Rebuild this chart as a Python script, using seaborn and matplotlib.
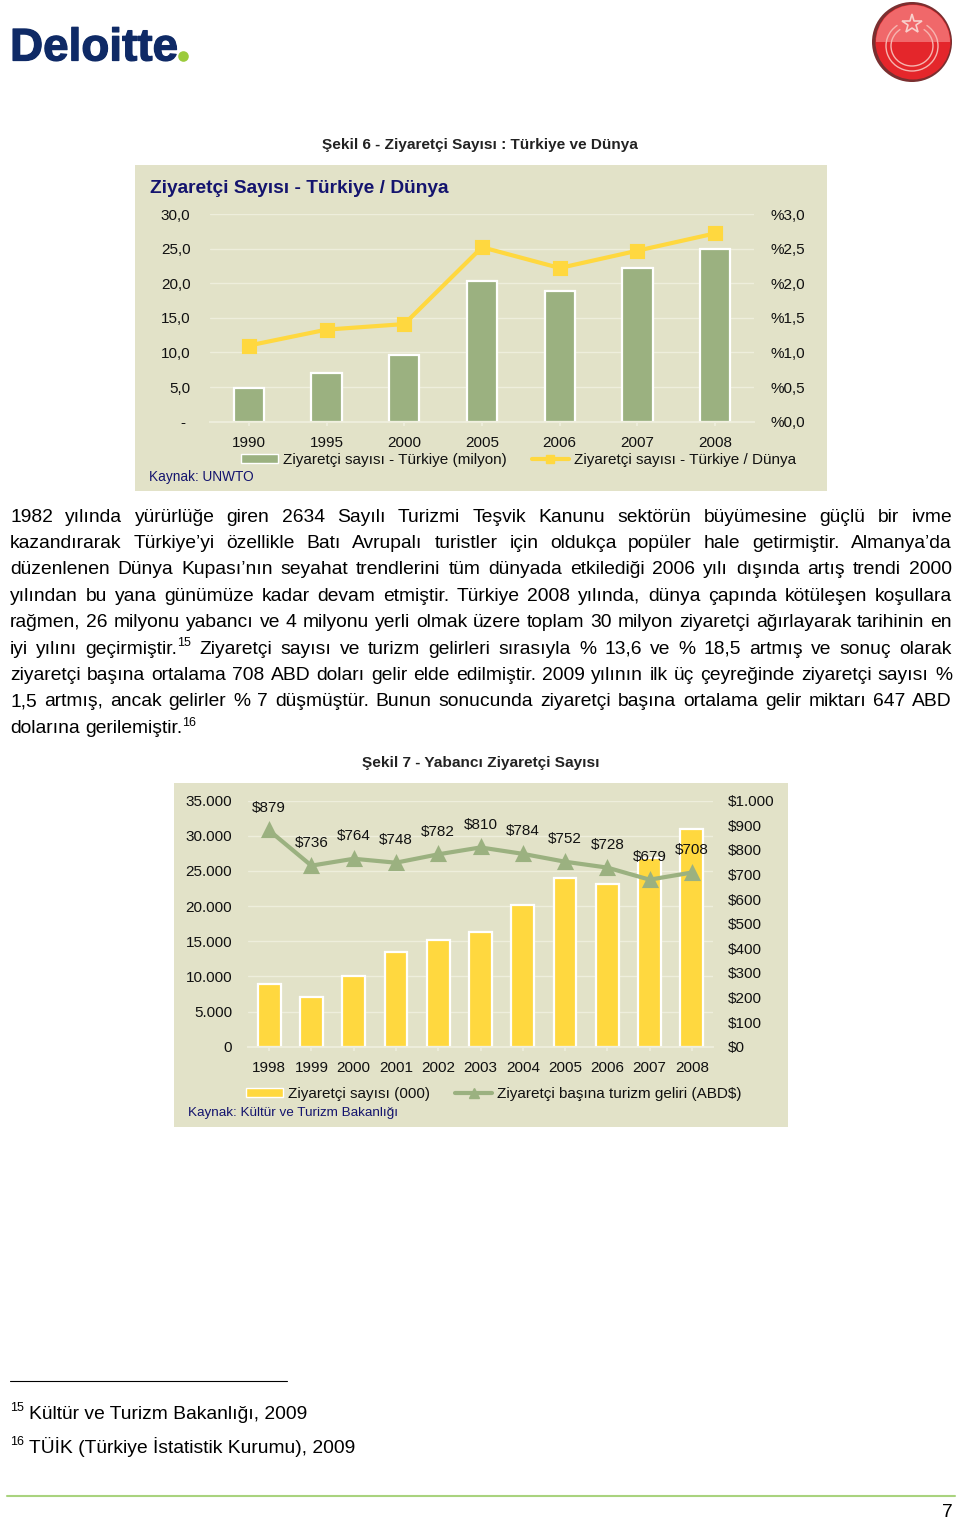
import pandas as pd
import matplotlib
matplotlib.use("Agg")
import matplotlib.pyplot as plt
import matplotlib.patheffects as pe
import seaborn as sns
from matplotlib.lines import Line2D
from matplotlib.patches import Arc, Circle, Patch, Rectangle, Wedge

# chart 1 data
years_a = ["1990", "1995", "2000", "2005", "2006", "2007", "2008"]
visitors_a = [4.8, 7.0, 9.6, 20.3, 18.9, 22.2, 24.9]
share_a = [1.10, 1.33, 1.41, 2.52, 2.22, 2.47, 2.72]
left_ticks_a = ["- ", "5,0", "10,0", "15,0", "20,0", "25,0", "30,0"]
right_ticks_a = ["%0,0", "%0,5", "%1,0", "%1,5", "%2,0", "%2,5", "%3,0"]

# chart 2 data
years_b = ["1998", "1999", "2000", "2001", "2002", "2003", "2004", "2005", "2006", "2007", "2008"]
visitors_b = [8900, 7100, 10000, 13500, 15200, 16300, 20200, 24000, 23100, 26800, 31000]
income_b = [879, 736, 764, 748, 782, 810, 784, 752, 728, 679, 708]
left_ticks_b = ["0", "5.000", "10.000", "15.000", "20.000", "25.000", "30.000", "35.000"]
right_ticks_b = ["$0", "$100", "$200", "$300", "$400", "$500", "$600", "$700", "$800", "$900", "$1.000"]

# body text, one entry per line of the page
body_lines = [
    "1982 yılında yürürlüğe giren 2634 Sayılı Turizmi Teşvik Kanunu sektörün büyümesine güçlü bir ivme",
    "kazandırarak Türkiye’yi özellikle Batı Avrupalı turistler için oldukça popüler hale getirmiştir. Almanya’da",
    "düzenlenen Dünya Kupası’nın seyahat trendlerini tüm dünyada etkilediği 2006 yılı dışında artış trendi 2000",
    "yılından bu yana günümüze kadar devam etmiştir. Türkiye 2008 yılında, dünya çapında kötüleşen koşullara",
    "rağmen, 26 milyonu yabancı ve 4 milyonu yerli olmak üzere toplam 30 milyon ziyaretçi ağırlayarak tarihinin en",
    "iyi yılını geçirmiştir.^15 Ziyaretçi sayısı ve turizm gelirleri sırasıyla % 13,6 ve % 18,5 artmış ve sonuç olarak",
    "ziyaretçi başına ortalama 708 ABD doları gelir elde edilmiştir. 2009 yılının ilk üç çeyreğinde ziyaretçi sayısı %",
    "1,5 artmış, ancak gelirler % 7 düşmüştür. Bunun sonucunda ziyaretçi başına ortalama gelir miktarı 647 ABD",
    "dolarına gerilemiştir.^16",
]

PANEL = "#E2E2C8"
GRID = "#EEEEDC"
NAVY = "#14146E"
GREEN = "#9BB180"
YELLOW = "#FFD83F"
TEXT = "#111111"
TICK_SIZE = 11
BODY_SIZE = 13.85

sns.set_theme(style="white")
plt.rcParams["font.family"] = ["Liberation Sans", "DejaVu Sans"]

W, H = 960, 1520
fig = plt.figure(figsize=(9.6, 15.2), dpi=100, facecolor="white")

# page overlay in pixel coordinates
page = fig.add_axes([0, 0, 1, 1], zorder=0)
page.set_xlim(0, W)
page.set_ylim(H, 0)
page.axis("off")
page.add_patch(Rectangle((135, 165), 692, 326, color=PANEL, lw=0))
page.add_patch(Rectangle((174, 783), 614, 344, color=PANEL, lw=0))

renderer = fig.canvas.get_renderer()


def px_axes(x0, y0, x1, y1):
    a = fig.add_axes([x0 / W, 1 - y1 / H, (x1 - x0) / W, (y1 - y0) / H], zorder=2)
    a.patch.set_alpha(0)
    return a


def style_axes(a):
    for side, spine in a.spines.items():
        spine.set_visible(side == "bottom")
        spine.set_color(GRID)
    a.set_xlabel("")
    a.set_ylabel("")


def combo_chart(box, years, bars, line, bar_color, line_color, marker, msize, bar_width,
                left_ticks, right_ticks, left_step, right_step, pad_l, pad_r):
    ax = px_axes(*box)
    df = pd.DataFrame({"year": years, "bars": bars, "line": line})
    sns.barplot(data=df, x="year", y="bars", ax=ax, color=bar_color, saturation=1,
                width=bar_width, edgecolor="white", linewidth=1.6, zorder=3)
    ax.set_yticks([i * left_step for i in range(len(left_ticks))])
    ax.set_yticklabels(left_ticks)
    ax.set_ylim(0, (len(left_ticks) - 1) * left_step)
    ax.grid(axis="y", color=GRID, lw=1)
    ax.set_axisbelow(True)
    ax.tick_params(axis="y", length=0, pad=pad_l, labelsize=TICK_SIZE, labelcolor=TEXT)
    ax.tick_params(axis="x", length=3, color=GRID, pad=7, labelsize=TICK_SIZE, labelcolor=TEXT, bottom=True)
    style_axes(ax)

    ax2 = ax.twinx()
    ax2.patch.set_alpha(0)
    sns.pointplot(data=df, x="year", y="line", ax=ax2, color=line_color, markers=marker,
                  markersize=msize, linewidth=3, errorbar=None)
    ax2.set_yticks([i * right_step for i in range(len(right_ticks))])
    ax2.set_yticklabels(right_ticks)
    ax2.set_ylim(0, (len(right_ticks) - 1) * right_step)
    ax2.set_xlim(-0.5, len(years) - 0.5)
    ax2.tick_params(axis="y", length=0, pad=pad_r, labelsize=TICK_SIZE, labelcolor=TEXT)
    ax2.grid(False)
    style_axes(ax2)
    return ax, ax2


# chart 1
ax_a, ax_a2 = combo_chart((210, 214, 754, 421.7), years_a, visitors_a, share_a, GREEN, YELLOW,
                          "s", 8, 0.39, left_ticks_a, right_ticks_a, 5, 0.5, 14, 12)
ax_a2.legend(
    handles=[Patch(facecolor=GREEN, edgecolor="white", lw=1),
             Line2D([], [], color=YELLOW, lw=3, marker="s", ms=6)],
    labels=["Ziyaretçi sayısı - Türkiye (milyon)", "Ziyaretçi sayısı - Türkiye / Dünya"],
    ncol=2, frameon=False, fontsize=TICK_SIZE, loc="center left",
    bbox_to_anchor=(241 / W, 1 - 460 / H), bbox_transform=fig.transFigure,
    borderpad=0, borderaxespad=0, handlelength=2.4, handleheight=0.5,
    handletextpad=0.33, columnspacing=1.68, labelcolor=TEXT,
)

# chart 2
ax_b, ax_b2 = combo_chart((248, 800.7, 713, 1046.7), years_b, visitors_b, income_b, YELLOW, GREEN,
                          "^", 8.5, 0.54, left_ticks_b, right_ticks_b, 5000, 100, 11.5, 11)
for i, v in enumerate(income_b):
    ax_b2.annotate(f"${v}", (i, v), xytext=(0, 16.3), textcoords="offset points",
                   ha="center", va="center", fontsize=TICK_SIZE, color=TEXT)
ax_b2.legend(
    handles=[Patch(facecolor=YELLOW, edgecolor="white", lw=1),
             Line2D([], [], color=GREEN, lw=3, marker="^", ms=6.5)],
    labels=["Ziyaretçi sayısı (000)", "Ziyaretçi başına turizm geliri (ABD$)"],
    ncol=2, frameon=False, fontsize=TICK_SIZE, loc="center left",
    bbox_to_anchor=(246 / W, 1 - 1094 / H), bbox_transform=fig.transFigure,
    borderpad=0, borderaxespad=0, handlelength=2.4, handleheight=0.5,
    handletextpad=0.33, columnspacing=1.68, labelcolor=TEXT,
)

# titles and captions
page.text(480, 144.5, "Şekil 6 - Ziyaretçi Sayısı : Türkiye ve Dünya", ha="center", va="center",
          fontsize=11.1, fontweight="bold", color="#222222")
page.text(481, 762.5, "Şekil 7 - Yabancı Ziyaretçi Sayısı", ha="center", va="center",
          fontsize=11.1, fontweight="bold", color="#222222")
page.text(150, 188.5, "Ziyaretçi Sayısı - Türkiye / Dünya", ha="left", va="center",
          fontsize=13.8, fontweight="bold", color=NAVY)
page.text(149, 477, "Kaynak: UNWTO", ha="left", va="center", fontsize=9.8, color=NAVY)
page.text(188, 1113, "Kaynak: Kültür ve Turizm Bakanlığı", ha="left", va="center", fontsize=9.7, color=NAVY)


def word_width(word, size):
    t = page.text(0, 0, word, fontsize=size)
    w = t.get_window_extent(renderer).width
    t.remove()
    return w


def draw_line(line, y, justify=True, x0=10, x1=952, size=BODY_SIZE):
    words = []
    for raw in line.split(" "):
        base, _, sup = raw.partition("^")
        w = word_width(base, size)
        sw = word_width(sup, 9) if sup else 0
        words.append((base, sup, w, sw))
    total = sum(w[2] + w[3] for w in words)
    gap = (x1 - x0 - total) / (len(words) - 1) if justify and len(words) > 1 else 5.4
    x = x0
    for base, sup, w, sw in words:
        page.text(x, y, base, fontsize=size, va="baseline", color="black")
        if sup:
            page.text(x + w, y - 7, sup, fontsize=9, va="baseline", color="black")
        x += w + sw + gap


for i, line in enumerate(body_lines):
    draw_line(line, 521.5 + i * 26.4, justify=i < len(body_lines) - 1)

# footnotes
page.plot([10, 287], [1381, 1381], color="black", lw=0.8)
page.text(10, 1411, "15", fontsize=9, color="black", va="baseline")
page.text(29, 1419, "Kültür ve Turizm Bakanlığı, 2009", fontsize=BODY_SIZE, color="black", va="baseline")
page.text(10, 1445, "16", fontsize=9, color="black", va="baseline")
page.text(29, 1453, "TÜİK (Türkiye İstatistik Kurumu), 2009", fontsize=BODY_SIZE, color="black", va="baseline")
page.plot([7, 955], [1496, 1496], color="#A9D37E", lw=1.5)
page.text(947, 1517, "7", fontsize=BODY_SIZE, color="black", ha="center", va="baseline")

# logos
page.text(10, 60.5, "Deloitte", fontsize=33, fontweight="bold", color="#0F2A66", va="baseline",
          path_effects=[pe.withStroke(linewidth=0.9, foreground="#0F2A66")])
page.add_patch(Circle((183.5, 56.5), 5.3, color="#9BCB3C", lw=0))

page.add_patch(Circle((912, 42), 40, color="#7A2F30", lw=0))
page.add_patch(Circle((913, 42), 37.5, color="#E4262B", lw=0))
page.add_patch(Wedge((913, 42), 37, 180, 360, color="#F0686A", lw=0))
page.add_patch(Arc((912, 46), 52, 50, angle=0, theta1=-55, theta2=235, color="#F6B5B0", lw=1))
page.add_patch(Arc((912, 46), 42, 40, angle=0, theta1=-55, theta2=235, color="#F6B5B0", lw=1))
page.plot([912], [24], marker="*", ms=15, mfc="none", mec="#F8D0CC", mew=1.2)

fig.savefig("out.png", dpi=100)
